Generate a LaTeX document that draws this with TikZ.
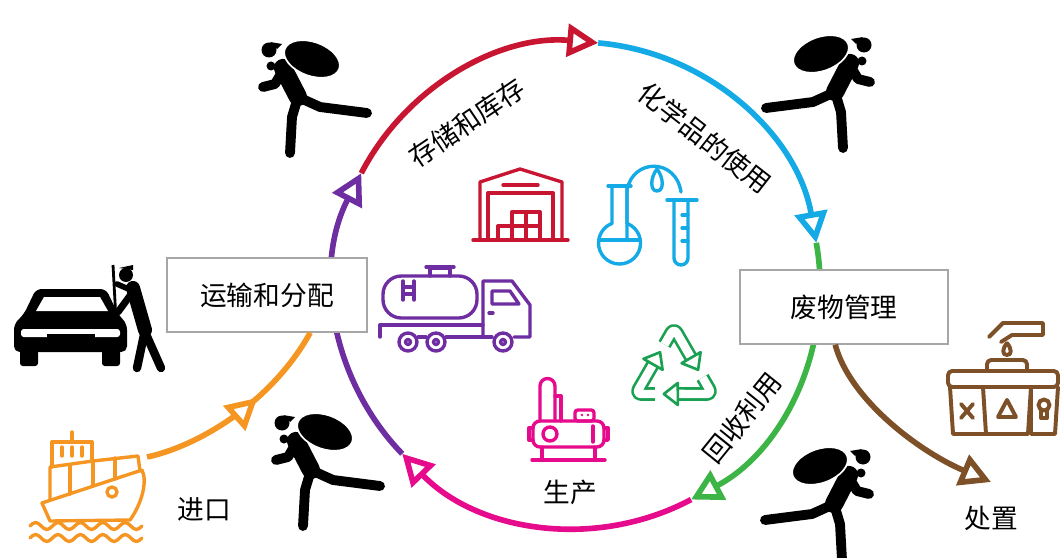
\documentclass[tikz,border=0pt]{standalone}
\usepackage{fontspec}
\setmainfont{Noto Sans CJK SC}
\usetikzlibrary{arrows.meta,decorations.markings}
\definecolor{redc}{RGB}{200,22,50}
\definecolor{bluec}{RGB}{20,170,230}
\definecolor{greenc}{RGB}{60,180,70}
\definecolor{recyc}{RGB}{25,160,80}
\definecolor{pinkc}{RGB}{230,10,140}
\definecolor{purplec}{RGB}{110,45,160}
\definecolor{orangec}{RGB}{245,150,35}
\definecolor{brownc}{RGB}{125,80,40}
\tikzset{
  opentip/.style={-{Triangle[open,fill=white,length=22pt,width=23pt]}},
  loopline/.style={line width=4pt, opentip},
  box/.style={draw=gray!70, line width=1pt, fill=white, minimum height=1.85cm,
              font=\fontsize{19pt}{22pt}\selectfont},
  lbl/.style={font=\fontsize{19pt}{22pt}\selectfont},
  icon/.style={line width=2.4pt, line cap=round, line join=round},
  limb/.style={line width=7pt, line cap=round, line join=round},
  thief/.pic={
    \draw[line width=13pt, line cap=round] (-15,-29) -- (0,0);
    \draw[limb] (-16,-25) -- (-23,-13) -- (-35,-10);
    \draw[limb] (0,0) -- (22,10) -- (69,16);
    \draw[limb] (0,0) -- (-6,20) -- (-8,56);
    \fill (-29,-47) circle (7.5);
    \fill (-28,-55) -- (-16,-53) -- (-21,-48) -- cycle;
    \fill (-27,-31) circle (4.5);
    \fill[draw=white, line width=1.2pt, rotate around={-20:(14,-38)}] (14,-38) ellipse (29 and 17);
  }
}
\begin{document}
\begin{tikzpicture}[x=0.025cm, y=-0.025cm]
  \fill[white] (0,0) rectangle (1061,558);
  \useasboundingbox (0,0) rectangle (1061,558);

  \coordinate (O) at (577,285);
  \foreach \a [count=\i] in {-224,-152.6,-85,-10,62}
    \path (O) ++(\a:243) coordinate (j\i);
  \draw[loopline, purplec] (j1) arc[start angle=-224, end angle=-152.6, radius=243];
  \draw[loopline, redc] (j2) arc[start angle=-152.6, end angle=-85, radius=243];
  \draw[loopline, bluec] (j3) arc[start angle=-85, end angle=-10, radius=243];
  \draw[loopline, greenc] (j4) arc[start angle=-10, end angle=62, radius=243];
  \draw[loopline, pinkc] (j5) arc[start angle=62, end angle=136, radius=243];

  \node[box, minimum width=5cm] (transport) at (267,295) {运输和分配};
  \node[box, minimum width=5.2cm] (waste) at (844,307) {废物管理};

  \node[lbl, rotate=34] (storage) at (467,123) {存储和库存};
  \node[lbl, rotate=-38] (usage) at (705,138) {化学品的使用};
  \node[lbl, rotate=51] (recycle) at (742,418) {回收利用};
  \node[lbl] (production) at (570,492) {生产};
  \node[lbl] (import) at (204,509) {进口};
  \node[lbl] (disposal) at (991,518) {处置};

  \coordinate (ship) at (147,457);
  \coordinate (dump) at (991,482);
  \draw[orangec, line width=4pt, postaction={decorate}, decoration={markings,
        mark=at position 0.6 with {\arrow{Triangle[open,fill=white,length=22pt,width=23pt]}}}]
    (ship) .. controls (195,447) and (270,405) .. ([xshift=1.08cm]transport.south);
  \draw[brownc, line width=4pt, opentip] ([xshift=-0.22cm]waste.south)
    .. controls (850,400) and (920,452) .. (dump);

  \pic at (298,97) {thief};
  \pic[xscale=-1] at (835,92) {thief};
  \pic at (311,470) {thief};
  \pic[xscale=-1] at (834,504) {thief};

  \fill[rounded corners=4pt] (14,352) -- (14,324) -- (24,314) -- (36,289) -- (106,289)
    -- (118,314) -- (127,324) -- (127,352) -- cycle;
  \fill[white] (44,297) -- (100,297) -- (108,311) -- (36,311) -- cycle;
  \fill[white, rounded corners=2pt] (21,329) rectangle (120,337);
  \fill (47,334) rectangle (95,341);
  \fill[rounded corners=2pt] (20,350) rectangle (38,366);
  \fill[rounded corners=2pt] (102,350) rectangle (120,366);
  \draw[line width=10pt, line cap=round] (133,288) -- (145,330);
  \draw[limb, line width=6pt] (145,330) -- (137,368);
  \draw[limb, line width=6pt] (145,332) -- (161,368);
  \draw[limb, line width=5pt] (132,293) -- (118,312);
  \draw[limb, line width=4pt] (133,291) -- (117,284);
  \draw[line width=2pt] (113,265) -- (116,320);
  \fill (126,275) circle (7);
  \fill (119,268) -- (133,265) -- (133,270) -- cycle;

  \begin{scope}[redc, icon]
    \draw (473,240) -- (568,240);
    \draw (480,240) -- (480,182) -- (520,169) -- (562,182) -- (562,240);
    \draw (488,240) -- (488,193) -- (553,193) -- (553,240);
    \draw (503,185) -- (538,185);
    \foreach \x in {498,512,526} \draw (\x,226) rectangle ++(14,14);
    \foreach \x in {512,526} \draw (\x,212) rectangle ++(14,14);
  \end{scope}

  \begin{scope}[bluec, icon]
    \draw (612,187) -- (612,223.4) arc[start angle=249, end angle=-69, radius=21] -- (627,187);
    \draw (608,186) -- (631,186);
    \draw (599,240) -- (640,240);
    \draw (627,238) -- (627,190) .. controls (633,158) and (676,158) .. (681,192);
    \draw (657,169) .. controls (650,178) and (650,191) .. (657,191)
      .. controls (664,191) and (664,178) .. (657,169);
    \draw (667,200) -- (697,200);
    \draw (674,200) -- (674,258) arc[start angle=180, end angle=0, radius=7] -- (688,200);
    \foreach \y in {215,228,241} \draw (688,\y) -- (682,\y);
  \end{scope}

  \begin{scope}[purplec, icon]
    \draw[rounded corners=13pt] (383,276) rectangle (477,318);
    \draw (430,276) -- (430,268) -- (450,268) -- (450,276);
    \draw (426,267) -- (454,267);
    \draw (403,281) -- (403,300) (414,281) -- (414,300) (403,287) -- (414,287) (403,294) -- (414,294);
    \draw (380,337) -- (380,325) -- (483,325);
    \draw (483,337) -- (483,281) -- (512,281) -- (530,305) -- (530,337) -- (514,337);
    \draw (492,291) -- (510,291) -- (519,304) -- (492,304) -- cycle;
    \draw (489,313) -- (493,313);
    \draw (418,337) -- (426,337) (446,337) -- (492,337);
    \foreach \x in {408,436,503} {\draw[fill=white] (\x,342) circle (9); \draw (\x,342) circle (2.5);}
  \end{scope}

  \begin{scope}[pinkc, icon]
    \draw (540,421) -- (540,386) arc[start angle=180, end angle=360, radius=7.5] -- (555,421);
    \draw (555,396) -- (561,396) -- (561,421);
    \draw[rounded corners=2pt] (575,410) rectangle (594,421);
    \fill (582,415) circle (1.3) (588,415) circle (1.3);
    \draw[rounded corners=5pt] (533,421) rectangle (604,447);
    \draw (533,428) -- (529,428) -- (529,440) -- (533,440);
    \draw (604,428) -- (608,428) -- (608,440) -- (604,440);
    \draw (550,434) circle (7);
    \draw (593,426) -- (593,442);
    \draw (542,447) -- (542,459) (595,447) -- (595,459);
    \draw (532,460) -- (605,460);
  \end{scope}

  \begin{scope}[recyc, line width=1.9pt, line join=round]
    \foreach \r in {0,120,240} {
      \draw[rotate around={\r:(674,372)}, double=white, double distance=6pt, rounded corners=4pt]
        (664.5,344.5) -- (674,328) -- (691.1,357.7);
      \draw[rotate around={\r:(674,372)}, fill=white]
        (698.1,369.8) -- (700.6,352.2) -- (681.6,363.2) -- cycle;
    }
  \end{scope}

  \begin{scope}[orangec, icon]
    \draw (72,441) -- (72,432);
    \draw (52,467) -- (52,442) -- (92,442) -- (92,461);
    \foreach \x in {62,72,82} \draw (\x,447) -- (\x,456);
    \draw (50,499) -- (50,467) -- (93,461) -- (138,456) -- (140,471);
    \draw (70,465) -- (70,494) (93,461) -- (93,486) (115,458) -- (115,479);
    \draw (42,503) -- (142,470) .. controls (148,482) and (141,505) .. (130,520) -- (50,521) -- cycle;
    \draw (112,492) circle (5);
    \draw (30,526) \foreach \k in {0,...,4} {sin ++(5.6,-3.5) cos ++(5.6,3.5) sin ++(5.6,3.5) cos ++(5.6,-3.5)};
    \draw (30,538) \foreach \k in {0,...,4} {sin ++(5.6,-3.5) cos ++(5.6,3.5) sin ++(5.6,3.5) cos ++(5.6,-3.5)};
  \end{scope}

  \begin{scope}[brownc, icon, line width=2.8pt]
    \draw (989,337) -- (1003,323) -- (1043,323) -- (1043,335) -- (1012,335) -- (1001,342);
    \draw (1007,343) .. controls (1002,349) and (1002,355) .. (1007,355)
      .. controls (1012,355) and (1012,349) .. (1007,343);
    \draw[rounded corners=3pt] (987,371) -- (987,360) -- (1027,360) -- (1027,371);
    \draw[rounded corners=3pt] (948,371) rectangle (1058,387);
    \draw (983,387) -- (986,434) -- (1028,434) -- (1031,387);
    \draw (950,387) -- (953,434) -- (986,434);
    \draw (1031,387) -- (1031,434) -- (1055,434) -- (1058,387);
    \draw (1007,400) -- (998,417) -- (1016,417) -- cycle;
    \draw (961,404) -- (973,418) (973,404) -- (961,418);
    \draw (1044,405) circle (5.5);
    \draw (1041,411) -- (1041,418) -- (1047,418) -- (1047,411);
  \end{scope}
\end{tikzpicture}
\end{document}
